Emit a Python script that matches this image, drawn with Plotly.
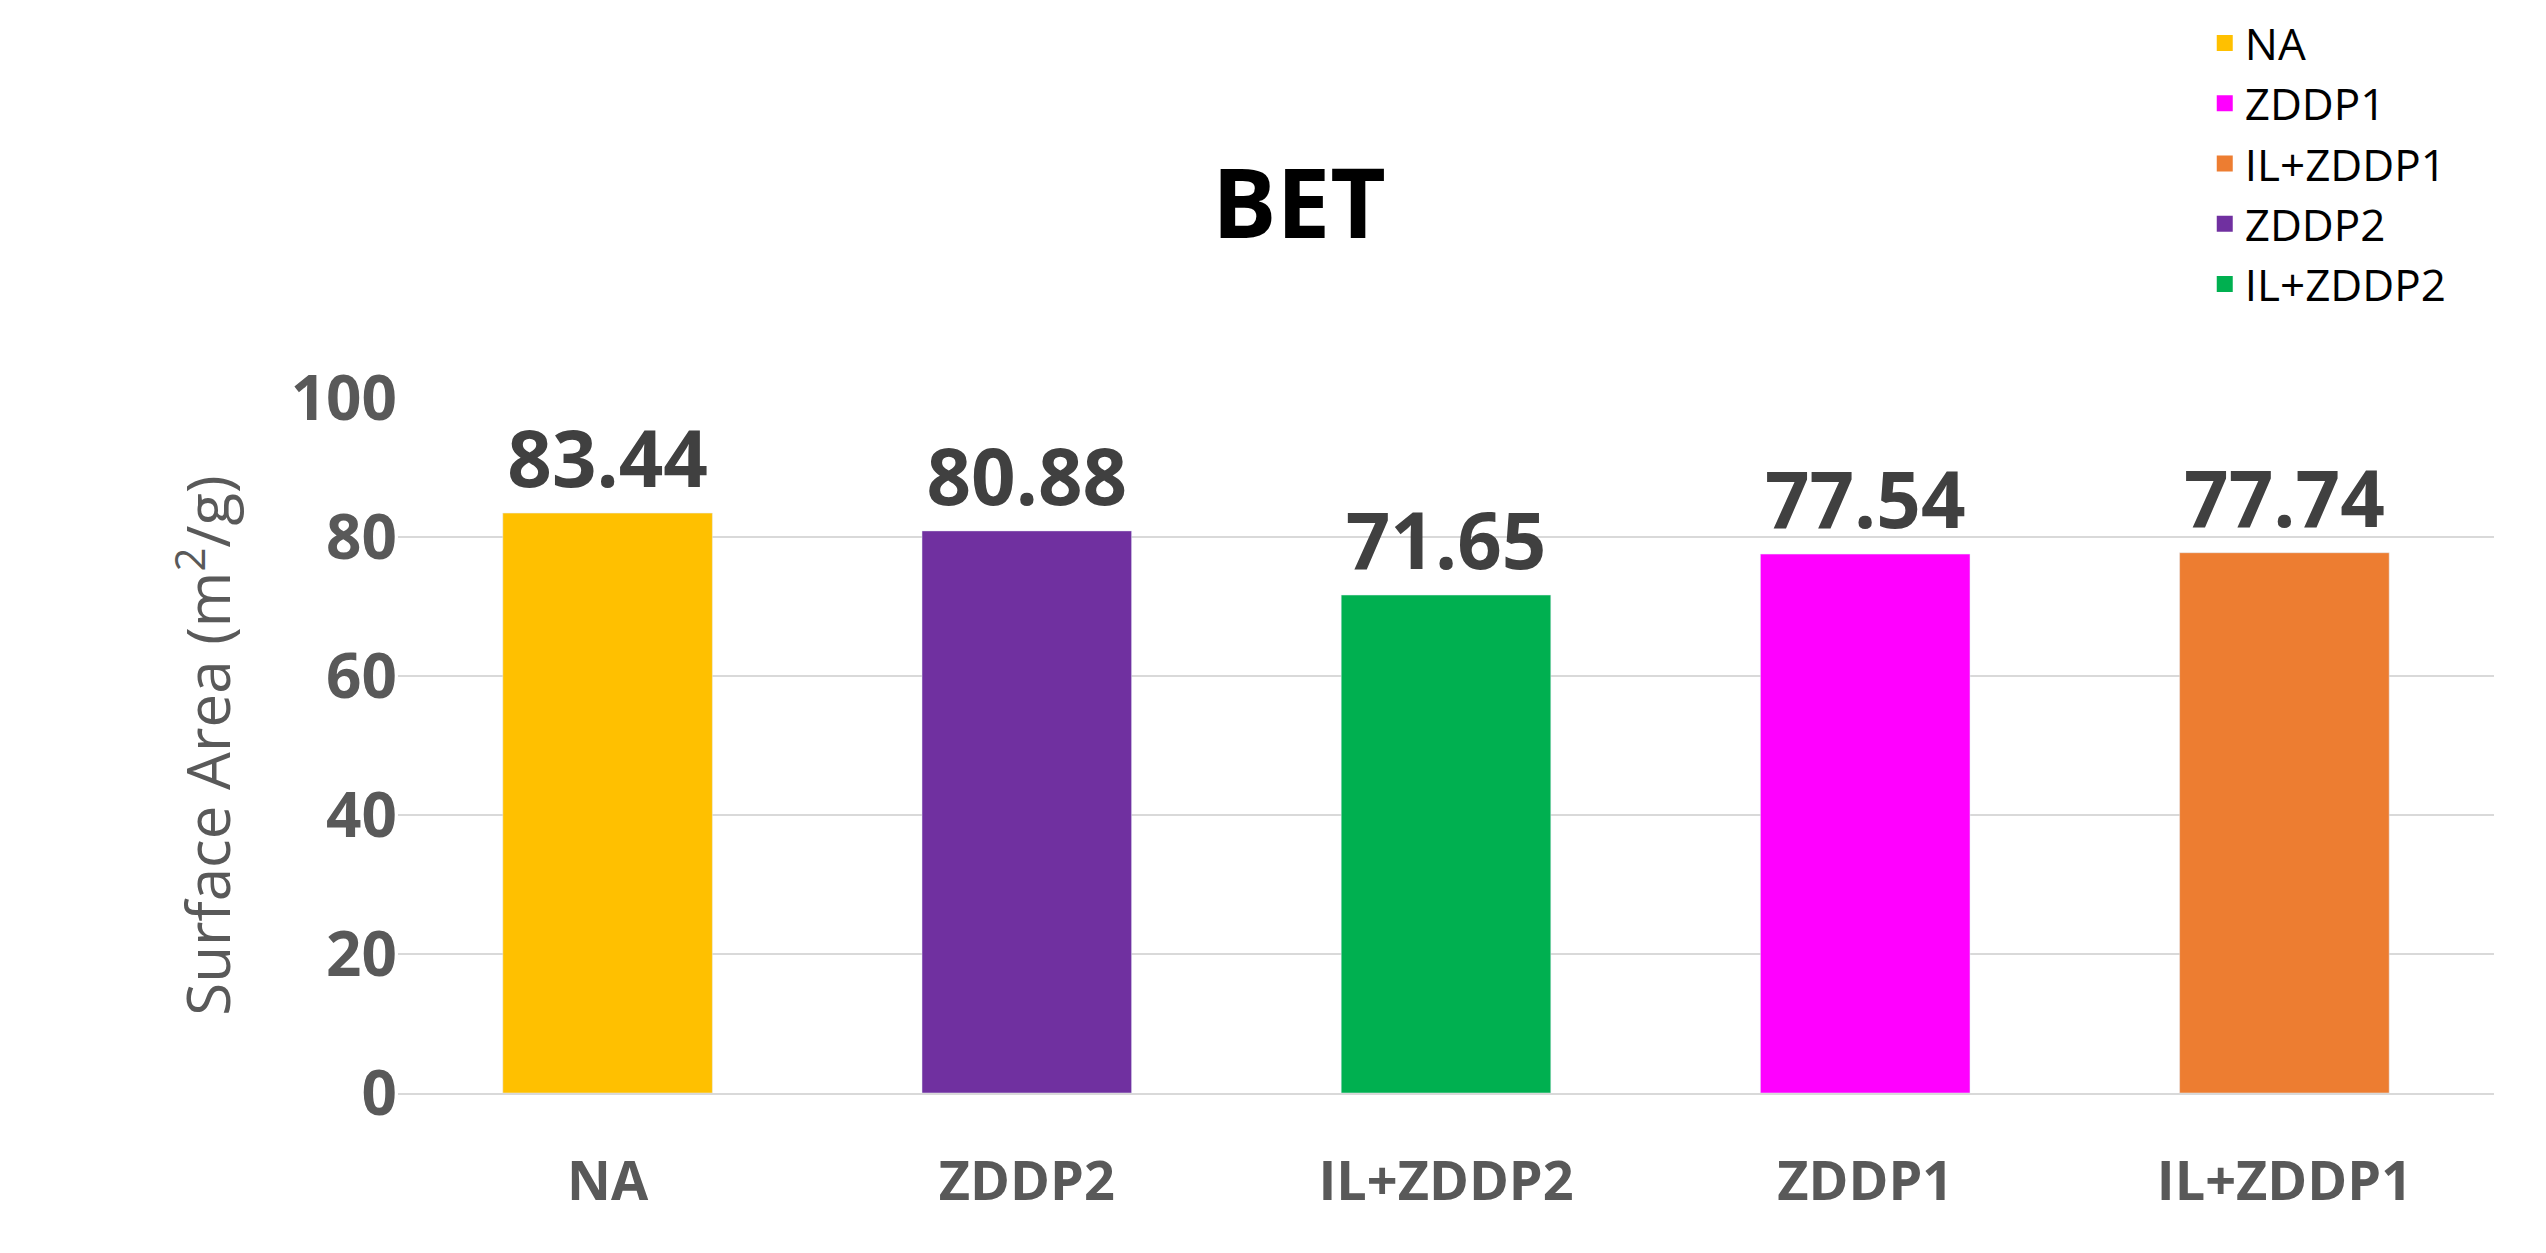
import plotly.graph_objects as go

categories = ["NA", "ZDDP2", "IL+ZDDP2", "ZDDP1", "IL+ZDDP1"]
values = [83.44, 80.88, 71.65, 77.54, 77.74]
colors = ["#FFC000", "#7030A0", "#00B050", "#FF00FF", "#ED7D31"]
legend_order = ["NA", "ZDDP1", "IL+ZDDP1", "ZDDP2", "IL+ZDDP2"]
y_ticks = [0, 20, 40, 60, 80, 100]

fig = go.Figure()
for cat, val, col in zip(categories, values, colors):
    fig.add_bar(
        x=[cat], y=[val], name=cat, marker_color=col, showlegend=False,
        text=[f"<b>{val:.2f}</b>"], textposition="outside",
        textfont=dict(size=78, color="#404040", family="Open Sans"),
        width=0.5, cliponaxis=False,
    )
    # legend entry with a large square swatch
    fig.add_scatter(
        x=[None], y=[None], mode="markers", name=cat,
        marker=dict(symbol="square", size=26, color=col),
        legendrank=legend_order.index(cat) + 1,
    )

fig.update_layout(
    width=2546, height=1253,
    plot_bgcolor="white", paper_bgcolor="white",
    font=dict(family="Open Sans", color="#595959"),
    title=dict(text="<b>BET</b>", x=0.507, y=0.87, xanchor="center",
               font=dict(size=96, color="black")),
    margin=dict(l=390, r=60, t=390, b=168),
    barmode="overlay",
    legend=dict(x=0.862, y=1.0, xanchor="left", yanchor="top",
                yref="container", traceorder="normal", tracegroupgap=0,
                font=dict(size=44, color="black", family="Open Sans")),
    xaxis=dict(categoryorder="array", categoryarray=categories,
               tickfont=dict(size=54, color="#595959", weight="bold"),
               showline=True, linecolor="#D9D9D9", linewidth=2,
               ticks="outside", ticklen=40, tickcolor="rgba(0,0,0,0)"),
    yaxis=dict(range=[0, 100], tickvals=y_ticks, showgrid=True,
               gridcolor="#D9D9D9", gridwidth=2, zeroline=False,
               tickfont=dict(size=62, color="#595959", family="Open Sans", weight="bold"),
               title=dict(text="Surface Area (m<sup>2</sup>/g)",
                          font=dict(size=60, color="#595959"), standoff=40),
               ticksuffix="  "),
)

fig.write_html("out.html")
